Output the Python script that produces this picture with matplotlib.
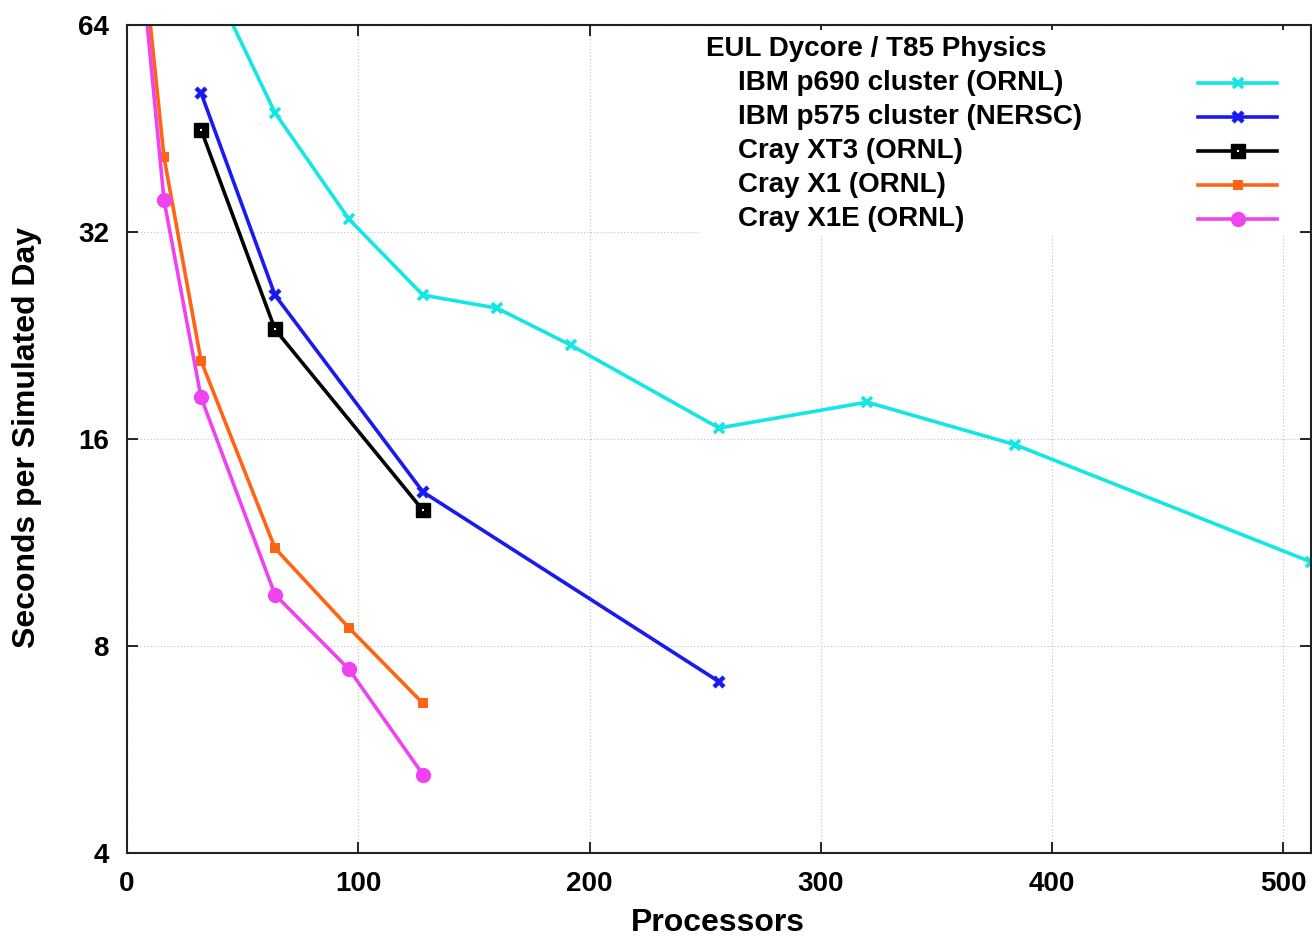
import matplotlib
matplotlib.use("Agg")
import matplotlib.pyplot as plt
from matplotlib.ticker import FixedLocator, FixedFormatter, NullLocator

plt.rcParams['font.family'] = ['Liberation Sans', 'DejaVu Sans']
plt.rcParams['font.weight'] = 'bold'

# ---- data ----
p690_x = [32, 64, 96, 128, 160, 192, 256, 320, 384, 512]
p690_y = [80, 47.7, 33.4, 25.9, 24.8, 21.9, 16.6, 18.1, 15.7, 10.6]

p575_x = [32, 64, 128, 256]
p575_y = [51.0, 25.9, 13.4, 7.1]

xt3_x = [32, 64, 128]
xt3_y = [45.1, 23.1, 12.6]

x1_x = [8, 16, 32, 64, 96, 128]
x1_y = [75, 41.1, 20.8, 11.1, 8.5, 6.6]

x1e_x = [8, 16, 32, 64, 96, 128]
x1e_y = [68, 35.6, 18.4, 9.5, 7.4, 5.2]

legend_title = "EUL Dycore / T85 Physics"
labels = ["IBM p690 cluster (ORNL)", "IBM p575 cluster (NERSC)",
          "Cray XT3 (ORNL)", "Cray X1 (ORNL)", "Cray X1E (ORNL)"]
xticks = [0, 100, 200, 300, 400, 500]
yticks = [4, 8, 16, 32, 64]

# ---- styles ----
styles = [
    dict(color='#14e6e6', marker='x', ms=7, mew=2.6),
    dict(color='#1a1af0', marker='x', ms=7, mew=3.2),
    dict(color='black', marker='s', ms=10, mfc='black', mec='black', mew=1.0),
    dict(color='#ff6414', marker='s', ms=7, mew=0),
    dict(color='#f043f0', marker='o', ms=11, mew=0),
]
series = [(p690_x, p690_y), (p575_x, p575_y), (xt3_x, xt3_y),
          (x1_x, x1_y), (x1e_x, x1e_y)]

fig = plt.figure(figsize=(13.12, 9.38), dpi=100)
ax = fig.add_axes([127/1312, 1-853/938, (1311-127)/1312, (853-25)/938])

for (xs, ys), st in zip(series, styles):
    ax.plot(xs, ys, lw=2.6, clip_on=True, **st)
    if st['marker'] == 's' and st['color'] == 'black':
        ax.plot(xs, ys, ls='none', marker='s', ms=1.8, color='white', mew=0)

ax.set_yscale('log', base=2)
ax.set_xlim(0, 512)
ax.set_ylim(4, 64)
ax.yaxis.set_major_locator(FixedLocator(yticks))
ax.yaxis.set_major_formatter(FixedFormatter([str(v) for v in yticks]))
ax.yaxis.set_minor_locator(NullLocator())
ax.set_xticks(xticks)
ax.set_xticklabels([str(v) for v in xticks])

ax.tick_params(axis='both', which='major', direction='in', length=8, width=1.2,
               top=True, right=True, labelsize=20)
ax.tick_params(axis='x', pad=13)
ax.tick_params(axis='y', pad=13)
for lab in ax.get_xticklabels() + ax.get_yticklabels():
    lab.set_fontweight('bold')
for s in ax.spines.values():
    s.set_linewidth(1.5)
    s.set_color('#222222')

ax.grid(True, which='major', color='#c0c0c0', ls=(0, (1, 2)), lw=0.8)

ax.set_xlabel("Processors", fontsize=23, fontweight='bold', va='center')
ax.set_ylabel("Seconds per Simulated Day", fontsize=23, fontweight='bold', va='center')
ax.xaxis.set_label_coords((718 - 127) / 1184, -(923 - 853) / 828)
ax.yaxis.set_label_coords(-(127 - 27) / 1184, (853 - 438) / 828)

# ---- manual legend (axes coordinates) ----
def fx(px):
    return (px - 127) / (1311 - 127)

def fy(py):
    return (853 - py) / (853 - 25)

ax.add_patch(plt.Rectangle((fx(700), fy(236)), fx(1300) - fx(700), fy(30) - fy(236),
                           transform=ax.transAxes, facecolor='white', edgecolor='none', zorder=5))
ax.text(fx(706), fy(49), legend_title, transform=ax.transAxes, fontsize=20,
        fontweight='bold', va='center', ha='left', zorder=6)
for i, (lab, st) in enumerate(zip(labels, styles)):
    yy = fy(83 + 34 * i)
    ax.text(fx(738), yy, lab, transform=ax.transAxes, fontsize=20,
            fontweight='bold', va='center', ha='left', zorder=6)
    ax.plot([fx(1198), fx(1277)], [yy, yy], transform=ax.transAxes, lw=2.6,
            color=st['color'], zorder=6, clip_on=False)
    kw = {k: v for k, v in st.items() if k != 'color'}
    ax.plot([fx(1238)], [yy], transform=ax.transAxes, color=st['color'],
            ls='none', zorder=7, clip_on=False, **kw)
    if i == 2:
        ax.plot([fx(1238)], [yy], transform=ax.transAxes, ls='none', marker='s',
                ms=1.8, color='white', mew=0, zorder=8, clip_on=False)

fig.savefig("out.png", dpi=100)
